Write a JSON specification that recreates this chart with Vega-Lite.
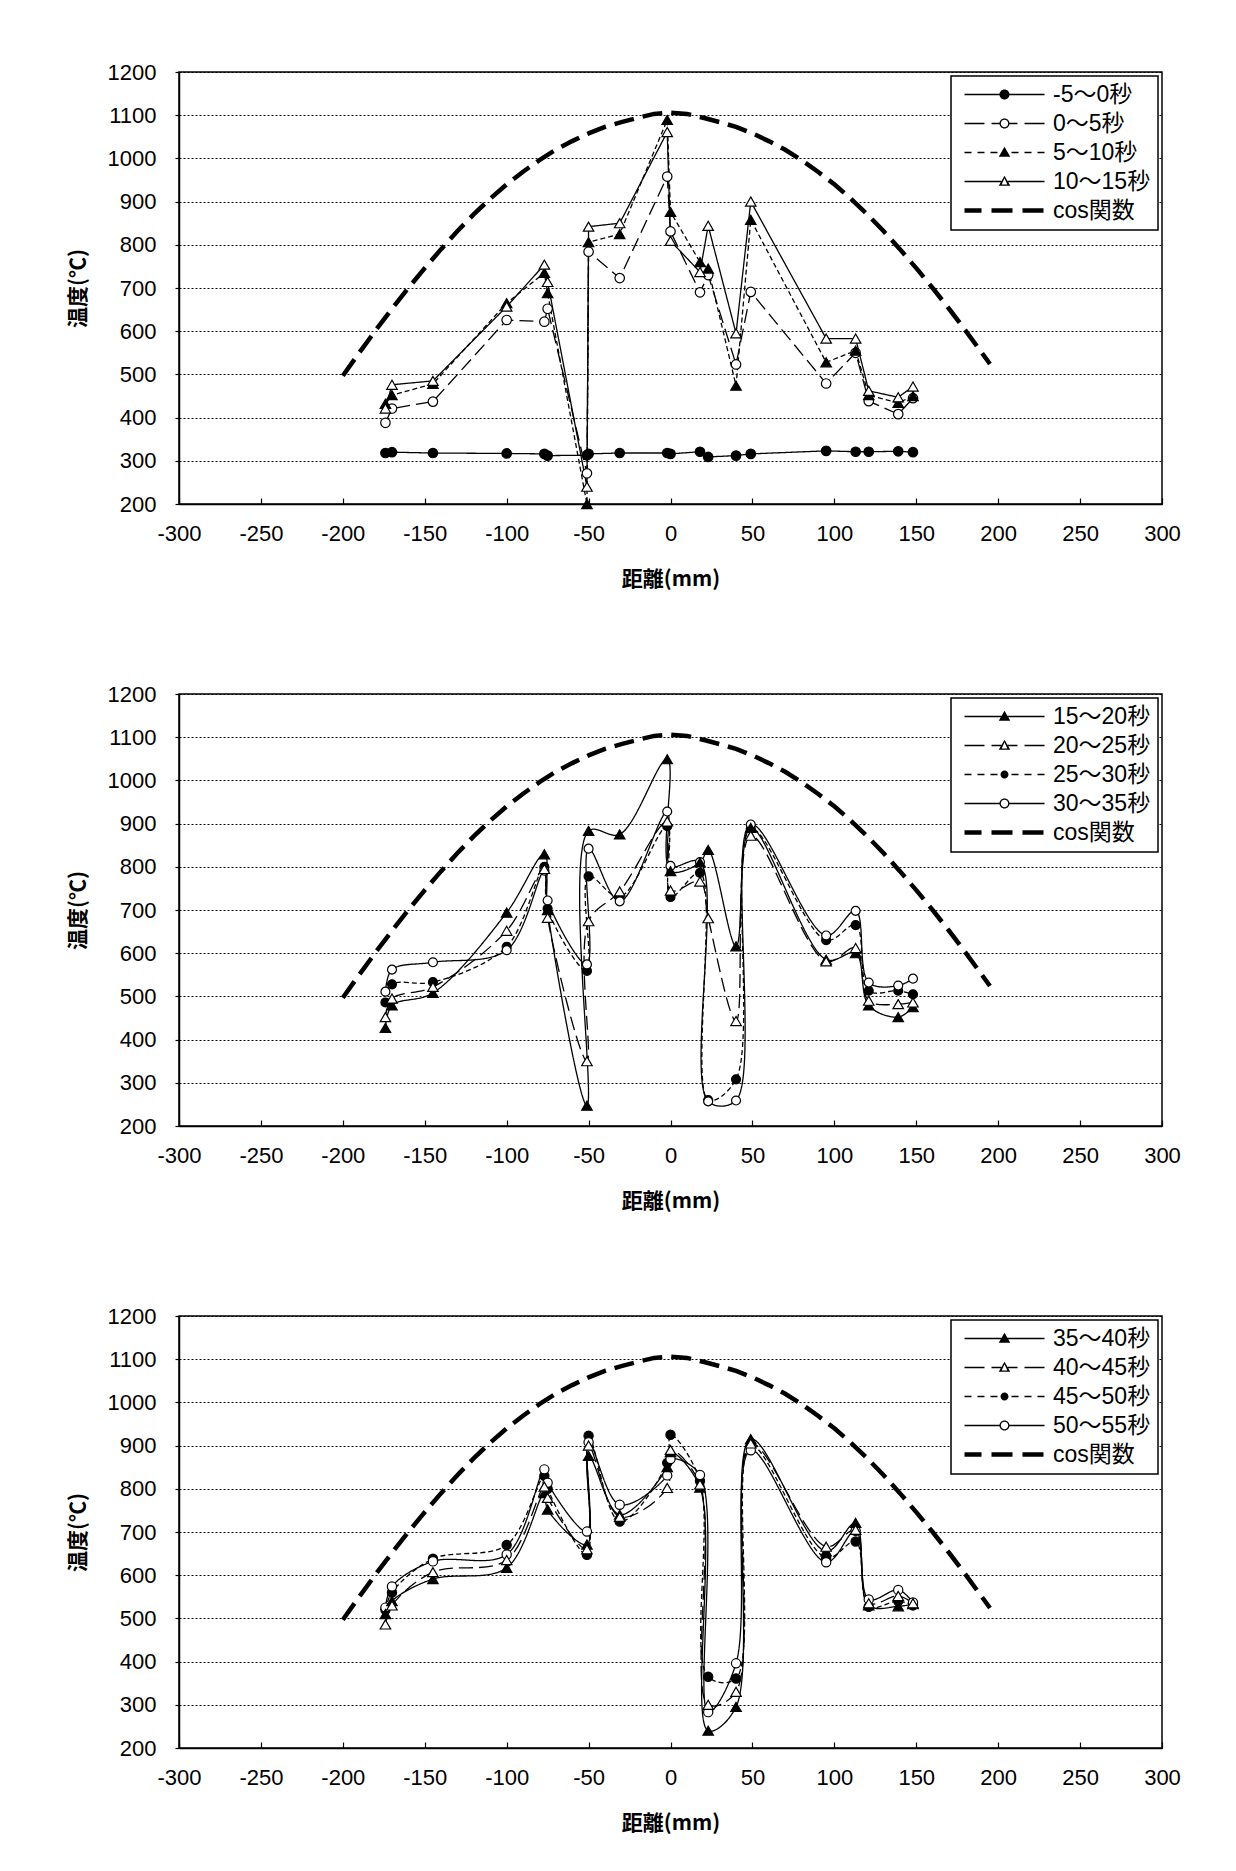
{
  "$schema": "https://vega.github.io/schema/vega-lite/v6.json",
  "background": "white",
  "padding": {"left": 66, "top": 60, "right": 5, "bottom": 5},
  "spacing": 92,
  "resolve": {
    "scale": {"shape": "independent", "fill": "independent", "strokeDash": "independent", "x": "independent", "y": "independent"},
    "legend": {"shape": "independent", "fill": "independent", "strokeDash": "independent"}
  },
  "datasets": {
    "cos": [
      {"distance": -200, "temp": 497}, {"distance": -190, "temp": 550}, {"distance": -180, "temp": 602}, {"distance": -170, "temp": 652},
      {"distance": -160, "temp": 700}, {"distance": -150, "temp": 746}, {"distance": -140, "temp": 790}, {"distance": -130, "temp": 832},
      {"distance": -120, "temp": 871}, {"distance": -110, "temp": 907}, {"distance": -100, "temp": 940}, {"distance": -90, "temp": 969},
      {"distance": -80, "temp": 996}, {"distance": -70, "temp": 1020}, {"distance": -60, "temp": 1040}, {"distance": -50, "temp": 1058},
      {"distance": -40, "temp": 1073}, {"distance": -30, "temp": 1084}, {"distance": -20, "temp": 1094}, {"distance": -10, "temp": 1103},
      {"distance": 0, "temp": 1106}, {"distance": 10, "temp": 1103}, {"distance": 20, "temp": 1094}, {"distance": 30, "temp": 1084},
      {"distance": 40, "temp": 1073}, {"distance": 50, "temp": 1058}, {"distance": 60, "temp": 1040}, {"distance": 70, "temp": 1020},
      {"distance": 80, "temp": 996}, {"distance": 90, "temp": 969}, {"distance": 100, "temp": 940}, {"distance": 110, "temp": 907},
      {"distance": 120, "temp": 871}, {"distance": 130, "temp": 832}, {"distance": 140, "temp": 790}, {"distance": 150, "temp": 746},
      {"distance": 160, "temp": 700}, {"distance": 170, "temp": 652}, {"distance": 180, "temp": 602}, {"distance": 190, "temp": 550},
      {"distance": 195, "temp": 524}
    ],
    "leg1": [{"series": "-5～0秒"}, {"series": "0～5秒"}, {"series": "5～10秒"}, {"series": "10～15秒"}, {"series": "cos関数"}],
    "leg2": [{"series": "15～20秒"}, {"series": "20～25秒"}, {"series": "25～30秒"}, {"series": "30～35秒"}, {"series": "cos関数"}],
    "leg3": [{"series": "35～40秒"}, {"series": "40～45秒"}, {"series": "45～50秒"}, {"series": "50～55秒"}, {"series": "cos関数"}],
    "p1": [
      {"distance": -174, "temp": 318, "series": "-5～0秒"}, {"distance": -170, "temp": 320, "series": "-5～0秒"}, {"distance": -145, "temp": 318, "series": "-5～0秒"}, {"distance": -100, "temp": 317, "series": "-5～0秒"},
      {"distance": -77, "temp": 316, "series": "-5～0秒"}, {"distance": -75, "temp": 312, "series": "-5～0秒"}, {"distance": -51, "temp": 313, "series": "-5～0秒"}, {"distance": -50, "temp": 316, "series": "-5～0秒"},
      {"distance": -31, "temp": 318, "series": "-5～0秒"}, {"distance": -2, "temp": 318, "series": "-5～0秒"}, {"distance": 0, "temp": 316, "series": "-5～0秒"}, {"distance": 18, "temp": 321, "series": "-5～0秒"},
      {"distance": 23, "temp": 309, "series": "-5～0秒"}, {"distance": 40, "temp": 312, "series": "-5～0秒"}, {"distance": 49, "temp": 316, "series": "-5～0秒"}, {"distance": 95, "temp": 323, "series": "-5～0秒"},
      {"distance": 113, "temp": 321, "series": "-5～0秒"}, {"distance": 121, "temp": 321, "series": "-5～0秒"}, {"distance": 139, "temp": 322, "series": "-5～0秒"}, {"distance": 148, "temp": 320, "series": "-5～0秒"},

      {"distance": -174, "temp": 388, "series": "0～5秒"}, {"distance": -170, "temp": 421, "series": "0～5秒"}, {"distance": -145, "temp": 437, "series": "0～5秒"}, {"distance": -100, "temp": 626, "series": "0～5秒"},
      {"distance": -77, "temp": 622, "series": "0～5秒"}, {"distance": -75, "temp": 652, "series": "0～5秒"}, {"distance": -51, "temp": 271, "series": "0～5秒"}, {"distance": -50, "temp": 784, "series": "0～5秒"},
      {"distance": -31, "temp": 723, "series": "0～5秒"}, {"distance": -2, "temp": 958, "series": "0～5秒"}, {"distance": 0, "temp": 831, "series": "0～5秒"}, {"distance": 18, "temp": 690, "series": "0～5秒"},
      {"distance": 23, "temp": 730, "series": "0～5秒"}, {"distance": 40, "temp": 523, "series": "0～5秒"}, {"distance": 49, "temp": 691, "series": "0～5秒"}, {"distance": 95, "temp": 479, "series": "0～5秒"},
      {"distance": 113, "temp": 550, "series": "0～5秒"}, {"distance": 121, "temp": 438, "series": "0～5秒"}, {"distance": 139, "temp": 408, "series": "0～5秒"}, {"distance": 148, "temp": 445, "series": "0～5秒"},

      {"distance": -174, "temp": 432, "series": "5～10秒"}, {"distance": -170, "temp": 452, "series": "5～10秒"}, {"distance": -145, "temp": 478, "series": "5～10秒"}, {"distance": -100, "temp": 665, "series": "5～10秒"},
      {"distance": -77, "temp": 735, "series": "5～10秒"}, {"distance": -75, "temp": 688, "series": "5～10秒"}, {"distance": -51, "temp": 200, "series": "5～10秒"}, {"distance": -50, "temp": 806, "series": "5～10秒"},
      {"distance": -31, "temp": 825, "series": "5～10秒"}, {"distance": -2, "temp": 1089, "series": "5～10秒"}, {"distance": 0, "temp": 876, "series": "5～10秒"}, {"distance": 18, "temp": 760, "series": "5～10秒"},
      {"distance": 23, "temp": 745, "series": "5～10秒"}, {"distance": 40, "temp": 474, "series": "5～10秒"}, {"distance": 49, "temp": 858, "series": "5～10秒"}, {"distance": 95, "temp": 528, "series": "5～10秒"},
      {"distance": 113, "temp": 555, "series": "5～10秒"}, {"distance": 121, "temp": 452, "series": "5～10秒"}, {"distance": 139, "temp": 434, "series": "5～10秒"}, {"distance": 148, "temp": 450, "series": "5～10秒"},

      {"distance": -174, "temp": 421, "series": "10～15秒"}, {"distance": -170, "temp": 476, "series": "10～15秒"}, {"distance": -145, "temp": 485, "series": "10～15秒"}, {"distance": -100, "temp": 657, "series": "10～15秒"},
      {"distance": -77, "temp": 754, "series": "10～15秒"}, {"distance": -75, "temp": 714, "series": "10～15秒"}, {"distance": -51, "temp": 240, "series": "10～15秒"}, {"distance": -50, "temp": 842, "series": "10～15秒"},
      {"distance": -31, "temp": 850, "series": "10～15秒"}, {"distance": -2, "temp": 1061, "series": "10～15秒"}, {"distance": 0, "temp": 809, "series": "10～15秒"}, {"distance": 18, "temp": 737, "series": "10～15秒"},
      {"distance": 23, "temp": 844, "series": "10～15秒"}, {"distance": 40, "temp": 595, "series": "10～15秒"}, {"distance": 49, "temp": 900, "series": "10～15秒"}, {"distance": 95, "temp": 583, "series": "10～15秒"},
      {"distance": 113, "temp": 583, "series": "10～15秒"}, {"distance": 121, "temp": 462, "series": "10～15秒"}, {"distance": 139, "temp": 447, "series": "10～15秒"}, {"distance": 148, "temp": 472, "series": "10～15秒"}
    ],
    "p2": [
      {"distance": -174, "temp": 427, "series": "15～20秒"}, {"distance": -170, "temp": 479, "series": "15～20秒"}, {"distance": -145, "temp": 508, "series": "15～20秒"}, {"distance": -100, "temp": 694, "series": "15～20秒"},
      {"distance": -77, "temp": 829, "series": "15～20秒"}, {"distance": -75, "temp": 700, "series": "15～20秒"}, {"distance": -51, "temp": 247, "series": "15～20秒"}, {"distance": -50, "temp": 883, "series": "15～20秒"},
      {"distance": -31, "temp": 875, "series": "15～20秒"}, {"distance": -2, "temp": 1049, "series": "15～20秒"}, {"distance": 0, "temp": 790, "series": "15～20秒"}, {"distance": 18, "temp": 810, "series": "15～20秒"},
      {"distance": 23, "temp": 839, "series": "15～20秒"}, {"distance": 40, "temp": 616, "series": "15～20秒"}, {"distance": 49, "temp": 890, "series": "15～20秒"}, {"distance": 95, "temp": 585, "series": "15～20秒"},
      {"distance": 113, "temp": 600, "series": "15～20秒"}, {"distance": 121, "temp": 479, "series": "15～20秒"}, {"distance": 139, "temp": 452, "series": "15～20秒"}, {"distance": 148, "temp": 475, "series": "15～20秒"},

      {"distance": -174, "temp": 452, "series": "20～25秒"}, {"distance": -170, "temp": 495, "series": "20～25秒"}, {"distance": -145, "temp": 522, "series": "20～25秒"}, {"distance": -100, "temp": 652, "series": "20～25秒"},
      {"distance": -77, "temp": 795, "series": "20～25秒"}, {"distance": -75, "temp": 682, "series": "20～25秒"}, {"distance": -51, "temp": 350, "series": "20～25秒"}, {"distance": -50, "temp": 674, "series": "20～25秒"},
      {"distance": -31, "temp": 743, "series": "20～25秒"}, {"distance": -2, "temp": 905, "series": "20～25秒"}, {"distance": 0, "temp": 745, "series": "20～25秒"}, {"distance": 18, "temp": 766, "series": "20～25秒"},
      {"distance": 23, "temp": 681, "series": "20～25秒"}, {"distance": 40, "temp": 443, "series": "20～25秒"}, {"distance": 49, "temp": 872, "series": "20～25秒"}, {"distance": 95, "temp": 581, "series": "20～25秒"},
      {"distance": 113, "temp": 612, "series": "20～25秒"}, {"distance": 121, "temp": 490, "series": "20～25秒"}, {"distance": 139, "temp": 482, "series": "20～25秒"}, {"distance": 148, "temp": 486, "series": "20～25秒"},

      {"distance": -174, "temp": 486, "series": "25～30秒"}, {"distance": -170, "temp": 528, "series": "25～30秒"}, {"distance": -145, "temp": 533, "series": "25～30秒"}, {"distance": -100, "temp": 615, "series": "25～30秒"},
      {"distance": -77, "temp": 800, "series": "25～30秒"}, {"distance": -75, "temp": 703, "series": "25～30秒"}, {"distance": -51, "temp": 559, "series": "25～30秒"}, {"distance": -50, "temp": 778, "series": "25～30秒"},
      {"distance": -31, "temp": 730, "series": "25～30秒"}, {"distance": -2, "temp": 894, "series": "25～30秒"}, {"distance": 0, "temp": 730, "series": "25～30秒"}, {"distance": 18, "temp": 786, "series": "25～30秒"},
      {"distance": 23, "temp": 260, "series": "25～30秒"}, {"distance": 40, "temp": 308, "series": "25～30秒"}, {"distance": 49, "temp": 888, "series": "25～30秒"}, {"distance": 95, "temp": 630, "series": "25～30秒"},
      {"distance": 113, "temp": 665, "series": "25～30秒"}, {"distance": 121, "temp": 513, "series": "25～30秒"}, {"distance": 139, "temp": 513, "series": "25～30秒"}, {"distance": 148, "temp": 505, "series": "25～30秒"},

      {"distance": -174, "temp": 511, "series": "30～35秒"}, {"distance": -170, "temp": 562, "series": "30～35秒"}, {"distance": -145, "temp": 579, "series": "30～35秒"}, {"distance": -100, "temp": 607, "series": "30～35秒"},
      {"distance": -77, "temp": 791, "series": "30～35秒"}, {"distance": -75, "temp": 722, "series": "30～35秒"}, {"distance": -51, "temp": 574, "series": "30～35秒"}, {"distance": -50, "temp": 842, "series": "30～35秒"},
      {"distance": -31, "temp": 720, "series": "30～35秒"}, {"distance": -2, "temp": 928, "series": "30～35秒"}, {"distance": 0, "temp": 802, "series": "30～35秒"}, {"distance": 18, "temp": 811, "series": "30～35秒"},
      {"distance": 23, "temp": 257, "series": "30～35秒"}, {"distance": 40, "temp": 259, "series": "30～35秒"}, {"distance": 49, "temp": 898, "series": "30～35秒"}, {"distance": 95, "temp": 641, "series": "30～35秒"},
      {"distance": 113, "temp": 698, "series": "30～35秒"}, {"distance": 121, "temp": 532, "series": "30～35秒"}, {"distance": 139, "temp": 525, "series": "30～35秒"}, {"distance": 148, "temp": 541, "series": "30～35秒"}
    ],
    "p3": [
      {"distance": -174, "temp": 510, "series": "35～40秒"}, {"distance": -170, "temp": 540, "series": "35～40秒"}, {"distance": -145, "temp": 591, "series": "35～40秒"}, {"distance": -100, "temp": 617, "series": "35～40秒"},
      {"distance": -77, "temp": 790, "series": "35～40秒"}, {"distance": -75, "temp": 752, "series": "35～40秒"}, {"distance": -51, "temp": 671, "series": "35～40秒"}, {"distance": -50, "temp": 876, "series": "35～40秒"},
      {"distance": -31, "temp": 740, "series": "35～40秒"}, {"distance": -2, "temp": 850, "series": "35～40秒"}, {"distance": 0, "temp": 885, "series": "35～40秒"}, {"distance": 18, "temp": 803, "series": "35～40秒"},
      {"distance": 23, "temp": 240, "series": "35～40秒"}, {"distance": 40, "temp": 295, "series": "35～40秒"}, {"distance": 49, "temp": 915, "series": "35～40秒"}, {"distance": 95, "temp": 655, "series": "35～40秒"},
      {"distance": 113, "temp": 721, "series": "35～40秒"}, {"distance": 121, "temp": 530, "series": "35～40秒"}, {"distance": 139, "temp": 528, "series": "35～40秒"}, {"distance": 148, "temp": 533, "series": "35～40秒"},

      {"distance": -174, "temp": 486, "series": "40～45秒"}, {"distance": -170, "temp": 530, "series": "40～45秒"}, {"distance": -145, "temp": 607, "series": "40～45秒"}, {"distance": -100, "temp": 635, "series": "40～45秒"},
      {"distance": -77, "temp": 805, "series": "40～45秒"}, {"distance": -75, "temp": 779, "series": "40～45秒"}, {"distance": -51, "temp": 660, "series": "40～45秒"}, {"distance": -50, "temp": 900, "series": "40～45秒"},
      {"distance": -31, "temp": 735, "series": "40～45秒"}, {"distance": -2, "temp": 802, "series": "40～45秒"}, {"distance": 0, "temp": 890, "series": "40～45秒"}, {"distance": 18, "temp": 810, "series": "40～45秒"},
      {"distance": 23, "temp": 300, "series": "40～45秒"}, {"distance": 40, "temp": 330, "series": "40～45秒"}, {"distance": 49, "temp": 905, "series": "40～45秒"}, {"distance": 95, "temp": 666, "series": "40～45秒"},
      {"distance": 113, "temp": 705, "series": "40～45秒"}, {"distance": 121, "temp": 535, "series": "40～45秒"}, {"distance": 139, "temp": 552, "series": "40～45秒"}, {"distance": 148, "temp": 535, "series": "40～45秒"},

      {"distance": -174, "temp": 520, "series": "45～50秒"}, {"distance": -170, "temp": 560, "series": "45～50秒"}, {"distance": -145, "temp": 638, "series": "45～50秒"}, {"distance": -100, "temp": 670, "series": "45～50秒"},
      {"distance": -77, "temp": 830, "series": "45～50秒"}, {"distance": -75, "temp": 800, "series": "45～50秒"}, {"distance": -51, "temp": 647, "series": "45～50秒"}, {"distance": -50, "temp": 923, "series": "45～50秒"},
      {"distance": -31, "temp": 724, "series": "45～50秒"}, {"distance": -2, "temp": 860, "series": "45～50秒"}, {"distance": 0, "temp": 925, "series": "45～50秒"}, {"distance": 18, "temp": 818, "series": "45～50秒"},
      {"distance": 23, "temp": 365, "series": "45～50秒"}, {"distance": 40, "temp": 361, "series": "45～50秒"}, {"distance": 49, "temp": 900, "series": "45～50秒"}, {"distance": 95, "temp": 640, "series": "45～50秒"},
      {"distance": 113, "temp": 678, "series": "45～50秒"}, {"distance": 121, "temp": 527, "series": "45～50秒"}, {"distance": 139, "temp": 540, "series": "45～50秒"}, {"distance": 148, "temp": 530, "series": "45～50秒"},

      {"distance": -174, "temp": 525, "series": "50～55秒"}, {"distance": -170, "temp": 574, "series": "50～55秒"}, {"distance": -145, "temp": 632, "series": "50～55秒"}, {"distance": -100, "temp": 648, "series": "50～55秒"},
      {"distance": -77, "temp": 845, "series": "50～55秒"}, {"distance": -75, "temp": 814, "series": "50～55秒"}, {"distance": -51, "temp": 701, "series": "50～55秒"}, {"distance": -50, "temp": 908, "series": "50～55秒"},
      {"distance": -31, "temp": 763, "series": "50～55秒"}, {"distance": -2, "temp": 831, "series": "50～55秒"}, {"distance": 0, "temp": 869, "series": "50～55秒"}, {"distance": 18, "temp": 832, "series": "50～55秒"},
      {"distance": 23, "temp": 283, "series": "50～55秒"}, {"distance": 40, "temp": 396, "series": "50～55秒"}, {"distance": 49, "temp": 889, "series": "50～55秒"}, {"distance": 95, "temp": 630, "series": "50～55秒"},
      {"distance": 113, "temp": 703, "series": "50～55秒"}, {"distance": 121, "temp": 544, "series": "50～55秒"}, {"distance": 139, "temp": 566, "series": "50～55秒"}, {"distance": 148, "temp": 537, "series": "50～55秒"}
    ]
  },
  "vconcat": [
    {
      "width": 983, "height": 432,
      "encoding": {
        "x": {"field": "distance", "type": "quantitative", "scale": {"domain": [-300, 300], "nice": false, "zero": false},
              "axis": {"title": "距離(mm)", "values": [-300, -250, -200, -150, -100, -50, 0, 50, 100, 150, 200, 250, 300], "labelExpr": "'' + datum.value", "grid": false, "tickSize": -6, "labelPadding": 25, "labelFlush": false, "titlePadding": 24}},
        "y": {"field": "temp", "type": "quantitative", "scale": {"domain": [200, 1200], "nice": false, "zero": false},
              "axis": {"title": "温度(℃)", "values": [200, 300, 400, 500, 600, 700, 800, 900, 1000, 1100, 1200], "labelExpr": "'' + datum.value", "grid": true, "tickSize": 4, "labelPadding": 19, "titlePadding": 19}}
      },
      "layer": [
        {"data": {"name": "cos"}, "mark": {"type": "line", "color": "black", "strokeWidth": 4.5, "strokeDash": [20, 9]}},
        {"data": {"name": "p1"}, "mark": {"type": "line", "color": "black", "strokeWidth": 1.3, "clip": true},
         "encoding": {"strokeDash": {"field": "series", "type": "nominal", "scale": {"domain": ["-5～0秒", "0～5秒", "5～10秒", "10～15秒"], "range": [[1, 0], [14, 6], [5, 3], [1, 0]]}, "legend": null}}},
        {"data": {"name": "p1"}, "transform": [{"filter": {"field": "series", "oneOf": ["-5～0秒", "0～5秒"]}}],
         "mark": {"type": "point", "shape": "circle", "filled": true, "stroke": "black", "strokeWidth": 1.2, "size": 90, "opacity": 1},
         "encoding": {"fill": {"field": "series", "type": "nominal", "scale": {"domain": ["-5～0秒", "0～5秒", "5～10秒", "10～15秒"], "range": ["black", "white", "black", "white"]}, "legend": null}}},
        {"data": {"name": "p1"}, "transform": [{"filter": {"field": "series", "oneOf": ["5～10秒", "10～15秒"]}}],
         "mark": {"type": "point", "shape": "triangle-up", "filled": true, "stroke": "black", "strokeWidth": 1.2, "size": 110, "opacity": 1},
         "encoding": {"fill": {"field": "series", "type": "nominal", "scale": {"domain": ["-5～0秒", "0～5秒", "5～10秒", "10～15秒"], "range": ["black", "white", "black", "white"]}, "legend": null}}},
        {"data": {"name": "leg1"}, "mark": {"type": "point", "filled": true, "color": "black", "opacity": 0, "size": 100},
         "encoding": {"shape": {"field": "series", "type": "nominal",
           "scale": {"domain": ["-5～0秒", "0～5秒", "5～10秒", "10～15秒", "cos関数"],
             "range": [
               "M-1,-0.13H6.2V0.13H-1Z M7.8,-0.13H15V0.13H7.8Z M7,-1A1,1 0 1,1 7,1A1,1 0 1,1 7,-1Z",
               "M-1,-0.13H3V0.13H-1Z M4.4,-0.13H6V0.13H4.4Z M8,-0.13H9.6V0.13H8Z M11,-0.13H15V0.13H11Z M7,-1A1,1 0 1,1 7,1A1,1 0 1,1 7,-1Z M7,-0.74A0.74,0.74 0 1,0 7,0.74A0.74,0.74 0 1,0 7,-0.74Z",
               "M-1,-0.13H0.4V0.13H-1Z M1.6,-0.13H3V0.13H1.6Z M4.2,-0.13H5.6V0.13H4.2Z M8.4,-0.13H9.8V0.13H8.4Z M11,-0.13H12.4V0.13H11Z M13.6,-0.13H15V0.13H13.6Z M7,-1.15L8.15,0.85L5.85,0.85Z",
               "M-1,-0.13H6.34V0.13H-1Z M7.66,-0.13H15V0.13H7.66Z M7,-1.15L8.15,0.85L5.85,0.85Z M7,-0.65L6.43,0.6L7.57,0.6Z",
               "M-1,-0.45H2.4V0.45H-1Z M4.4,-0.45H8.6V0.45H4.4Z M10.6,-0.45H14.8V0.45H10.6Z"
             ]},
           "legend": {"title": null}}}}
      ]
    },
    {
      "width": 983, "height": 432,
      "encoding": {
        "x": {"field": "distance", "type": "quantitative", "scale": {"domain": [-300, 300], "nice": false, "zero": false},
              "axis": {"title": "距離(mm)", "values": [-300, -250, -200, -150, -100, -50, 0, 50, 100, 150, 200, 250, 300], "labelExpr": "'' + datum.value", "grid": false, "tickSize": -6, "labelPadding": 25, "labelFlush": false, "titlePadding": 24}},
        "y": {"field": "temp", "type": "quantitative", "scale": {"domain": [200, 1200], "nice": false, "zero": false},
              "axis": {"title": "温度(℃)", "values": [200, 300, 400, 500, 600, 700, 800, 900, 1000, 1100, 1200], "labelExpr": "'' + datum.value", "grid": true, "tickSize": 4, "labelPadding": 19, "titlePadding": 19}}
      },
      "layer": [
        {"data": {"name": "cos"}, "mark": {"type": "line", "color": "black", "strokeWidth": 4.5, "strokeDash": [20, 9]}},
        {"data": {"name": "p2"}, "mark": {"type": "line", "color": "black", "strokeWidth": 1.3, "interpolate": "catmull-rom", "clip": true},
         "encoding": {"strokeDash": {"field": "series", "type": "nominal", "scale": {"domain": ["15～20秒", "20～25秒", "25～30秒", "30～35秒"], "range": [[1, 0], [14, 6], [5, 3], [1, 0]]}, "legend": null}}},
        {"data": {"name": "p2"}, "transform": [{"filter": {"field": "series", "oneOf": ["25～30秒", "30～35秒"]}}],
         "mark": {"type": "point", "shape": "circle", "filled": true, "stroke": "black", "strokeWidth": 1.2, "size": 80, "opacity": 1},
         "encoding": {"fill": {"field": "series", "type": "nominal", "scale": {"domain": ["15～20秒", "20～25秒", "25～30秒", "30～35秒"], "range": ["black", "white", "black", "white"]}, "legend": null}}},
        {"data": {"name": "p2"}, "transform": [{"filter": {"field": "series", "oneOf": ["15～20秒", "20～25秒"]}}],
         "mark": {"type": "point", "shape": "triangle-up", "filled": true, "stroke": "black", "strokeWidth": 1.2, "size": 110, "opacity": 1},
         "encoding": {"fill": {"field": "series", "type": "nominal", "scale": {"domain": ["15～20秒", "20～25秒", "25～30秒", "30～35秒"], "range": ["black", "white", "black", "white"]}, "legend": null}}},
        {"data": {"name": "leg2"}, "mark": {"type": "point", "filled": true, "color": "black", "opacity": 0, "size": 100},
         "encoding": {"shape": {"field": "series", "type": "nominal",
           "scale": {"domain": ["15～20秒", "20～25秒", "25～30秒", "30～35秒", "cos関数"],
             "range": [
               "M-1,-0.13H6.4V0.13H-1Z M7.6,-0.13H15V0.13H7.6Z M7,-1.15L8.15,0.85L5.85,0.85Z",
               "M-1,-0.13H3V0.13H-1Z M4.4,-0.13H6.34V0.13H4.4Z M7.66,-0.13H9.6V0.13H7.66Z M11,-0.13H15V0.13H11Z M7,-1.15L8.15,0.85L5.85,0.85Z M7,-0.65L6.43,0.6L7.57,0.6Z",
               "M-1,-0.13H0.4V0.13H-1Z M1.6,-0.13H3V0.13H1.6Z M4.2,-0.13H5.6V0.13H4.2Z M8.4,-0.13H9.8V0.13H8.4Z M11,-0.13H12.4V0.13H11Z M13.6,-0.13H15V0.13H13.6Z M7,-0.8A0.8,0.8 0 1,1 7,0.8A0.8,0.8 0 1,1 7,-0.8Z",
               "M-1,-0.13H6V0.13H-1Z M8,-0.13H15V0.13H8Z M7,-1A1,1 0 1,1 7,1A1,1 0 1,1 7,-1Z M7,-0.74A0.74,0.74 0 1,0 7,0.74A0.74,0.74 0 1,0 7,-0.74Z",
               "M-1,-0.45H2.4V0.45H-1Z M4.4,-0.45H8.6V0.45H4.4Z M10.6,-0.45H14.8V0.45H10.6Z"
             ]},
           "legend": {"title": null}}}}
      ]
    },
    {
      "width": 983, "height": 432,
      "encoding": {
        "x": {"field": "distance", "type": "quantitative", "scale": {"domain": [-300, 300], "nice": false, "zero": false},
              "axis": {"title": "距離(mm)", "values": [-300, -250, -200, -150, -100, -50, 0, 50, 100, 150, 200, 250, 300], "labelExpr": "'' + datum.value", "grid": false, "tickSize": -6, "labelPadding": 25, "labelFlush": false, "titlePadding": 24}},
        "y": {"field": "temp", "type": "quantitative", "scale": {"domain": [200, 1200], "nice": false, "zero": false},
              "axis": {"title": "温度(℃)", "values": [200, 300, 400, 500, 600, 700, 800, 900, 1000, 1100, 1200], "labelExpr": "'' + datum.value", "grid": true, "tickSize": 4, "labelPadding": 19, "titlePadding": 19}}
      },
      "layer": [
        {"data": {"name": "cos"}, "mark": {"type": "line", "color": "black", "strokeWidth": 4.5, "strokeDash": [20, 9]}},
        {"data": {"name": "p3"}, "mark": {"type": "line", "color": "black", "strokeWidth": 1.3, "interpolate": "catmull-rom", "clip": true},
         "encoding": {"strokeDash": {"field": "series", "type": "nominal", "scale": {"domain": ["35～40秒", "40～45秒", "45～50秒", "50～55秒"], "range": [[1, 0], [14, 6], [5, 3], [1, 0]]}, "legend": null}}},
        {"data": {"name": "p3"}, "transform": [{"filter": {"field": "series", "oneOf": ["45～50秒", "50～55秒"]}}],
         "mark": {"type": "point", "shape": "circle", "filled": true, "stroke": "black", "strokeWidth": 1.2, "size": 85, "opacity": 1},
         "encoding": {"fill": {"field": "series", "type": "nominal", "scale": {"domain": ["35～40秒", "40～45秒", "45～50秒", "50～55秒"], "range": ["black", "white", "black", "white"]}, "legend": null}}},
        {"data": {"name": "p3"}, "transform": [{"filter": {"field": "series", "oneOf": ["35～40秒", "40～45秒"]}}],
         "mark": {"type": "point", "shape": "triangle-up", "filled": true, "stroke": "black", "strokeWidth": 1.2, "size": 110, "opacity": 1},
         "encoding": {"fill": {"field": "series", "type": "nominal", "scale": {"domain": ["35～40秒", "40～45秒", "45～50秒", "50～55秒"], "range": ["black", "white", "black", "white"]}, "legend": null}}},
        {"data": {"name": "leg3"}, "mark": {"type": "point", "filled": true, "color": "black", "opacity": 0, "size": 100},
         "encoding": {"shape": {"field": "series", "type": "nominal",
           "scale": {"domain": ["35～40秒", "40～45秒", "45～50秒", "50～55秒", "cos関数"],
             "range": [
               "M-1,-0.13H6.4V0.13H-1Z M7.6,-0.13H15V0.13H7.6Z M7,-1.15L8.15,0.85L5.85,0.85Z",
               "M-1,-0.13H3V0.13H-1Z M4.4,-0.13H6.34V0.13H4.4Z M7.66,-0.13H9.6V0.13H7.66Z M11,-0.13H15V0.13H11Z M7,-1.15L8.15,0.85L5.85,0.85Z M7,-0.65L6.43,0.6L7.57,0.6Z",
               "M-1,-0.13H0.4V0.13H-1Z M1.6,-0.13H3V0.13H1.6Z M4.2,-0.13H5.6V0.13H4.2Z M8.4,-0.13H9.8V0.13H8.4Z M11,-0.13H12.4V0.13H11Z M13.6,-0.13H15V0.13H13.6Z M7,-0.8A0.8,0.8 0 1,1 7,0.8A0.8,0.8 0 1,1 7,-0.8Z",
               "M-1,-0.13H6V0.13H-1Z M8,-0.13H15V0.13H8Z M7,-1A1,1 0 1,1 7,1A1,1 0 1,1 7,-1Z M7,-0.74A0.74,0.74 0 1,0 7,0.74A0.74,0.74 0 1,0 7,-0.74Z",
               "M-1,-0.45H2.4V0.45H-1Z M4.4,-0.45H8.6V0.45H4.4Z M10.6,-0.45H14.8V0.45H10.6Z"
             ]},
           "legend": {"title": null}}}}
      ]
    }
  ],
  "config": {
    "view": {"stroke": "black", "strokeWidth": 1.5},
    "axis": {
      "labelFont": "Liberation Sans", "labelFontSize": 22, "labelColor": "black",
      "titleFont": "Noto Sans CJK JP", "titleFontSize": 21, "titleFontWeight": "bold", "titleColor": "black",
      "domainColor": "black", "domainWidth": 1.5, "tickColor": "black", "tickWidth": 1.2,
      "gridColor": "black", "gridDash": [2, 2], "gridOpacity": 1, "gridWidth": 1
    },
    "legend": {
      "orient": "top-right", "offset": 4, "fillColor": "white", "strokeColor": "black", "strokeWidth": 1.5, "padding": 7,
      "labelFont": "Liberation Sans, Noto Sans CJK JP", "labelFontSize": 23, "labelColor": "black", "labelOffset": 72, "labelLimit": 400,
      "symbolSize": 100, "rowPadding": 5, "symbolStrokeWidth": 0, "symbolFillColor": "black", "symbolOpacity": 1
    }
  }
}
